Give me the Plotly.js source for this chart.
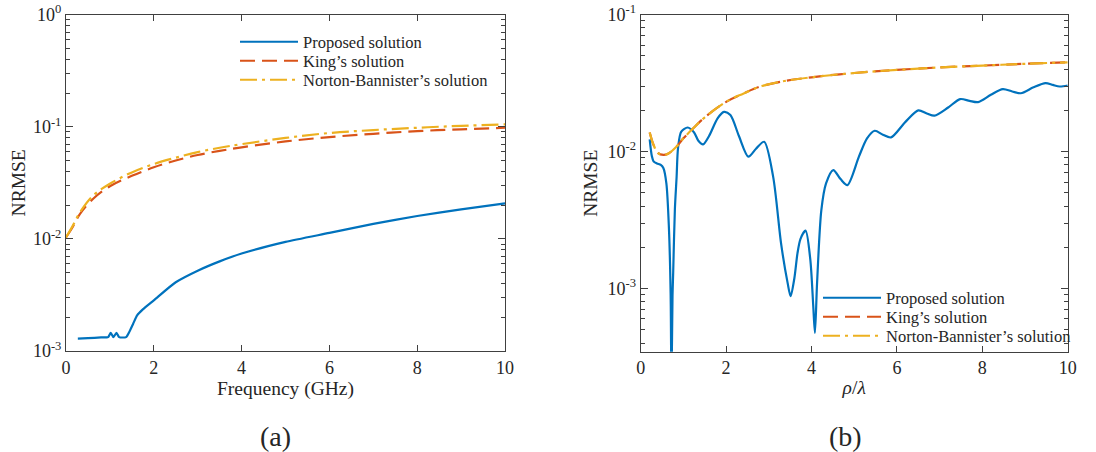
<!DOCTYPE html>
<html>
<head>
<meta charset="utf-8">
<script src="https://cdn.plot.ly/plotly-3.0.1.min.js"></script>
<style>html,body{margin:0;padding:0;background:#fff;}#chart{width:1096px;height:452px;}</style>
</head>
<body>
<div id="chart"></div>
<script>
// ---- Panel (a): NRMSE vs frequency (GHz) ----
const freqProposed = [0.27,0.5,0.8,0.96,1.02,1.08,1.15,1.21,1.37,1.45,1.53,1.62,1.75,2.0,2.5,3.0,3.5,4.0,5.0,6.0,7.0,8.0,9.0,10.0];
const nrmseProposedA = [1.29e-3,1.30e-3,1.32e-3,1.33e-3,1.45e-3,1.33e-3,1.45e-3,1.33e-3,1.33e-3,1.5e-3,1.75e-3,2.08e-3,2.35e-3,2.83e-3,4.1e-3,5.2e-3,6.3e-3,7.4e-3,9.4e-3,1.13e-2,1.36e-2,1.6e-2,1.83e-2,2.07e-2];
const freqRef = [0,0.15,0.32,0.62,1.0,1.5,2,2.5,3,3.5,4,5,6,7,8,9,10];
const nrmseKingA = [1.03e-2,1.27e-2,1.67e-2,2.28e-2,2.95e-2,3.65e-2,4.35e-2,5.0e-2,5.6e-2,6.1e-2,6.55e-2,7.4e-2,8.1e-2,8.65e-2,9.15e-2,9.5e-2,9.8e-2];
const nrmseNBA = [1.03e-2,1.3e-2,1.73e-2,2.44e-2,3.1e-2,3.92e-2,4.65e-2,5.3e-2,5.95e-2,6.5e-2,7.0e-2,7.95e-2,8.8e-2,9.35e-2,9.8e-2,1.02e-1,1.05e-1];

// ---- Panel (b): NRMSE vs rho/lambda ----
const rhoProposed = [0.21,0.26,0.30,0.38,0.47,0.53,0.6,0.66,0.7,0.72,0.745,0.76,0.8,0.84,0.875,0.95,1.1,1.25,1.35,1.46,1.6,1.8,1.95,2.1,2.3,2.52,2.7,2.89,3.1,3.29,3.44,3.51,3.6,3.67,3.74,3.86,3.97,4.04,4.08,4.13,4.23,4.34,4.51,4.68,4.84,5.11,5.3,5.48,5.67,5.86,6.2,6.5,6.7,6.88,7.2,7.48,7.7,7.9,8.2,8.48,8.7,8.9,9.2,9.48,9.65,9.81,10.0];
const nrmseProposedB = [1.23e-2,9.3e-3,8.5e-3,8.2e-3,8.0e-3,7.6e-3,5.9e-3,2.8e-3,9.3e-4,2.0e-4,9.0e-4,1.3e-3,3.8e-3,6.5e-3,1.07e-2,1.4e-2,1.5e-2,1.38e-2,1.2e-2,1.13e-2,1.3e-2,1.75e-2,1.95e-2,1.85e-2,1.3e-2,9.2e-3,1.05e-2,1.18e-2,6.6e-3,2.1e-3,1.1e-3,8.8e-4,1.2e-3,1.8e-3,2.3e-3,2.65e-3,1.65e-3,7.5e-4,4.75e-4,1.1e-3,3.74e-3,5.86e-3,7.34e-3,6.3e-3,5.7e-3,9.2e-3,1.25e-2,1.42e-2,1.33e-2,1.27e-2,1.65e-2,2.0e-2,1.9e-2,1.83e-2,2.1e-2,2.42e-2,2.35e-2,2.3e-2,2.6e-2,2.86e-2,2.75e-2,2.67e-2,2.95e-2,3.16e-2,3.07e-2,2.99e-2,3.04e-2];
const rhoRef = [0.21,0.3,0.4,0.53,0.65,0.84,1.0,1.23,1.5,2.01,2.4,2.79,3.3,4.0,5.0,6.0,7.0,8.0,9.0,10.0];
const nrmseKingB = [1.38e-2,1.12e-2,9.8e-3,9.46e-3,9.7e-3,1.09e-2,1.25e-2,1.48e-2,1.78e-2,2.32e-2,2.65e-2,2.98e-2,3.25e-2,3.49e-2,3.75e-2,3.95e-2,4.12e-2,4.25e-2,4.38e-2,4.49e-2];
const nrmseNBB = [1.38e-2,1.12e-2,9.8e-3,9.46e-3,9.7e-3,1.09e-2,1.25e-2,1.48e-2,1.78e-2,2.32e-2,2.65e-2,2.98e-2,3.25e-2,3.49e-2,3.75e-2,3.95e-2,4.12e-2,4.25e-2,4.38e-2,4.49e-2];

const seriesNames = ["Proposed solution","King’s solution","Norton-Bannister’s solution"];
const xTicks = [0,2,4,6,8,10];
const yTicksA = [1e-3,1e-2,1e-1,1];
const yTickTextA = ["10<sup>-3</sup>","10<sup>-2</sup>","10<sup>-1</sup>","10<sup>0</sup>"];
const yTicksB = [1e-3,1e-2,1e-1];
const yTickTextB = ["10<sup>-3</sup>","10<sup>-2</sup>","10<sup>-1</sup>"];

const BLUE = "#0072BD", RED = "#D95319", YEL = "#EDB120";
const FONT = "Liberation Serif, Times New Roman, serif";
const AX = "#404040";
const TXT = "#262626";

function minorVals(lo, hi) {
  const v = [];
  for (let e = lo; e < hi; e++) for (let m = 2; m <= 9; m++) v.push(m * Math.pow(10, e));
  return v;
}

const lineP = {color: BLUE, width: 2.2};
const lineK = {color: RED, width: 2.2, dash: "15px,7px"};
const lineN = {color: YEL, width: 2.2, dash: "17px,5px,3px,5px"};

const traces = [
  {x: freqProposed, y: nrmseProposedA, mode: "lines", name: seriesNames[0], line: Object.assign({shape: "spline", smoothing: 0.6}, lineP), xaxis: "x", yaxis: "y", legend: "legend"},
  {x: freqRef, y: nrmseKingA, mode: "lines", name: seriesNames[1], line: Object.assign({shape: "spline"}, lineK), xaxis: "x", yaxis: "y", legend: "legend2"},
  {x: freqRef, y: nrmseNBA, mode: "lines", name: seriesNames[2], line: Object.assign({shape: "spline"}, lineN), xaxis: "x", yaxis: "y", legend: "legend3"},
  {x: rhoProposed, y: nrmseProposedB, mode: "lines", name: seriesNames[0], line: Object.assign({shape: "spline", smoothing: 0.8}, lineP), xaxis: "x2", yaxis: "y2", legend: "legend4"},
  {x: rhoRef, y: nrmseKingB, mode: "lines", name: seriesNames[1], line: Object.assign({shape: "spline"}, lineK), xaxis: "x2", yaxis: "y2", legend: "legend5"},
  {x: rhoRef, y: nrmseNBB, mode: "lines", name: seriesNames[2], line: Object.assign({shape: "spline"}, lineN), xaxis: "x2", yaxis: "y2", legend: "legend6"}
];

const commonX = {
  range: [0, 10], tickmode: "array", tickvals: xTicks, ticks: "inside", ticklen: 6, tickcolor: AX,
  showline: true, linecolor: AX, linewidth: 1, mirror: "ticks", showgrid: false, zeroline: false,
  tickfont: {family: FONT, size: 18, color: TXT}, automargin: false
};
const commonY = {
  type: "log", tickmode: "array", ticks: "inside", ticklen: 7, tickcolor: AX,
  showline: true, linecolor: AX, linewidth: 1, mirror: "ticks", showgrid: false, zeroline: false,
  tickfont: {family: FONT, size: 18, color: TXT}, automargin: false
};

function legendAt(xPx, yPx) {
  return {x: xPx / 1096, y: (452 - yPx) / 452, xanchor: "left", yanchor: "middle",
    bgcolor: "rgba(0,0,0,0)", borderwidth: 0,
    font: {family: FONT, size: 16.5, color: TXT}, itemwidth: 58, tracegroupgap: 0};
}

const layout = {
  width: 1096, height: 452,
  margin: {l: 0, r: 0, t: 0, b: 0},
  paper_bgcolor: "#fff", plot_bgcolor: "#fff",
  font: {family: FONT, color: TXT},
  xaxis: Object.assign({}, commonX, {domain: [0.0602, 0.4608], anchor: "y",
    title: {text: "Frequency (GHz)", font: {family: FONT, size: 19.5, color: TXT}, standoff: 3}}),
  yaxis: Object.assign({}, commonY, {domain: [0.2235, 0.9675], anchor: "x", range: [-3, 0],
    tickvals: yTicksA, ticktext: yTickTextA,
    minor: {tickmode: "array", tickvals: minorVals(-3, 0), ticks: "inside", ticklen: 4, tickcolor: AX},
    title: {text: "NRMSE", font: {family: FONT, size: 19.5, color: TXT}, standoff: 2}}),
  xaxis2: Object.assign({}, commonX, {domain: [0.5846, 0.9742], anchor: "y2",
    title: {text: "<i>ρ</i>/<i>λ</i>", font: {family: FONT, size: 19.5, color: TXT}, standoff: 3}}),
  yaxis2: Object.assign({}, commonY, {domain: [0.2219, 0.9675], anchor: "x2", range: [Math.log10(3.46e-4), -1],
    tickvals: yTicksB, ticktext: yTickTextB,
    minor: {tickmode: "array", tickvals: minorVals(-4, -1), ticks: "inside", ticklen: 4, tickcolor: AX},
    title: {text: "NRMSE", font: {family: FONT, size: 19.5, color: TXT}, standoff: 4}}),
  legend: legendAt(235, 42),
  legend2: legendAt(235, 61),
  legend3: legendAt(235, 80),
  legend4: legendAt(818, 298),
  legend5: legendAt(818, 317),
  legend6: legendAt(818, 336),
  annotations: [
    {text: "(a)", xref: "paper", yref: "paper", x: 275 / 1096, y: (452 - 436) / 452, xanchor: "center", yanchor: "middle", showarrow: false, font: {family: FONT, size: 28, color: TXT}},
    {text: "(b)", xref: "paper", yref: "paper", x: 845 / 1096, y: (452 - 436) / 452, xanchor: "center", yanchor: "middle", showarrow: false, font: {family: FONT, size: 28, color: TXT}}
  ],
  showlegend: true
};

Plotly.newPlot("chart", traces, layout, {staticPlot: true, displayModeBar: false});
</script>
</body>
</html>
